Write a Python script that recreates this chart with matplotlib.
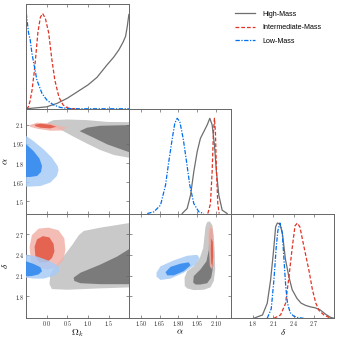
import matplotlib
matplotlib.use('Agg')
import matplotlib.pyplot as plt
from matplotlib.patches import Polygon
from matplotlib.lines import Line2D

plt.rcParams['mathtext.fontset'] = 'cm'

# ---------------- data ----------------
param_labels = [r'$\Omega_k$', r'$\alpha$', r'$\delta$']
series_names = ['High-Mass', 'Intermediate-Mass', 'Low-Mass']

omk_ticks = [0.0, 0.5, 1.0, 1.5]
omk_ticklabels = ['0.0', '0.5', '1.0', '1.5']
alpha_ticks = [1.50, 1.65, 1.80, 1.95, 2.10]
alpha_xticklabels = ['1.50', '1.65', '1.80', '1.95', '2.10']
alpha_yticklabels = ['1.5', '1.65', '1.8', '1.95', '2.1']
delta_ticks = [1.8, 2.1, 2.4, 2.7]
delta_ticklabels = ['1.8', '2.1', '2.4', '2.7']

omk_lim = (-0.49, 1.99)
alpha_lim = (1.405, 2.225)
delta_lim = (1.48, 3.0)

# 1D marginals (normalised to peak 1)
omk_high_x = [-0.49, 0.0, 0.25, 0.5, 0.75, 1.0, 1.22, 1.46, 1.62, 1.75, 1.85, 1.91, 1.95, 1.99]
omk_high_y = [0.0, 0.02, 0.056, 0.11, 0.18, 0.25, 0.33, 0.46, 0.54, 0.62, 0.70, 0.76, 0.86, 0.99]
omk_inter_x = [-0.49, -0.44, -0.40, -0.35, -0.30, -0.27, -0.21, -0.15, -0.095, -0.03, 0.05, 0.13, 0.20, 0.30, 0.40, 0.50, 0.60, 0.70]
omk_inter_y = [0.0, 0.02, 0.08, 0.20, 0.38, 0.51, 0.80, 0.96, 1.0, 0.95, 0.80, 0.51, 0.30, 0.12, 0.04, 0.01, 0.0, 0.0]
omk_low_x = [-0.49, -0.437, -0.396, -0.355, -0.315, -0.233, -0.11, 0.01, 0.17, 0.33, 0.5, 0.8, 1.99]
omk_low_y = [1.0, 0.80, 0.725, 0.585, 0.49, 0.30, 0.16, 0.09, 0.04, 0.014, 0.003, 0.0, 0.0]

alpha_high_x = [1.831, 1.871, 1.898, 1.924, 1.951, 1.977, 2.004, 2.031, 2.052, 2.071, 2.089, 2.105, 2.124, 2.151, 2.191]
alpha_high_y = [0.0, 0.053, 0.193, 0.439, 0.649, 0.789, 0.86, 0.93, 1.0, 0.93, 0.719, 0.439, 0.193, 0.035, 0.0]
alpha_inter_x = [2.036, 2.057, 2.071, 2.081, 2.089, 2.097, 2.105, 2.116, 2.127]
alpha_inter_y = [0.0, 0.10, 0.45, 0.85, 1.0, 0.85, 0.45, 0.10, 0.0]
alpha_low_x = [1.552, 1.605, 1.658, 1.698, 1.724, 1.752, 1.772, 1.791, 1.812, 1.839, 1.866, 1.892, 1.924, 1.964, 2.004]
alpha_low_y = [0.0, 0.018, 0.088, 0.298, 0.544, 0.789, 0.947, 1.0, 0.965, 0.789, 0.544, 0.298, 0.105, 0.018, 0.0]

delta_high_x = [1.81, 1.94, 2.01, 2.06, 2.10, 2.135, 2.16, 2.20, 2.235, 2.28, 2.33, 2.38, 2.45, 2.51, 2.58, 2.65, 2.72, 2.80, 2.88, 2.95, 3.0]
delta_high_y = [0.0, 0.035, 0.157, 0.40, 0.68, 0.96, 1.0, 0.99, 0.89, 0.62, 0.44, 0.30, 0.21, 0.16, 0.135, 0.12, 0.11, 0.085, 0.04, 0.01, 0.0]
delta_inter_x = [2.109, 2.208, 2.282, 2.332, 2.382, 2.422, 2.456, 2.495, 2.555, 2.629, 2.68, 2.73, 2.78, 2.85, 2.95]
delta_inter_y = [0.0, 0.035, 0.157, 0.436, 0.75, 0.97, 1.0, 0.958, 0.75, 0.50, 0.30, 0.16, 0.08, 0.035, 0.0]
delta_low_x = [2.010, 2.070, 2.109, 2.144, 2.168, 2.198, 2.233, 2.26, 2.285, 2.31, 2.35, 2.40, 2.46, 2.55]
delta_low_y = [0.0, 0.10, 0.40, 0.75, 0.92, 1.0, 0.90, 0.60, 0.33, 0.16, 0.06, 0.024, 0.008, 0.0]

# 2D credible regions: (x list, y list) for 95% (outer) and 68% (inner)
# Omega_k - alpha
oa_high_outer_x = [0.01, 0.05, 0.17, 0.495, 0.98, 1.47, 1.99, 2.1, 2.1, 1.99, 1.63, 1.30, 0.98, 0.655, 0.33, 0.05]
oa_high_outer_y = [2.110, 2.120, 2.136, 2.141, 2.136, 2.122, 2.120, 2.12, 1.84, 1.842, 1.863, 1.902, 1.952, 2.006, 2.063, 2.100]
oa_high_inner_x = [0.80, 0.98, 1.30, 1.99, 2.1, 2.1, 1.99, 1.47, 1.14]
oa_high_inner_y = [2.050, 2.077, 2.092, 2.097, 2.097, 1.886, 1.886, 1.946, 1.998]
oa_inter_outer_x = [-0.41, -0.23, 0.09, 0.33, 0.495, 0.37, 0.09, -0.23, -0.40]
oa_inter_outer_y = [2.097, 2.116, 2.110, 2.089, 2.077, 2.055, 2.053, 2.069, 2.084]
oa_inter_inner_x = [-0.29, -0.15, 0.09, 0.235, 0.09, -0.15, -0.27]
oa_inter_inner_y = [2.100, 2.108, 2.100, 2.084, 2.071, 2.077, 2.089]
oa_low_outer_x = [-0.6, -0.49, -0.315, -0.07, 0.13, 0.267, 0.29, 0.25, 0.09, -0.15, -0.40, -0.49, -0.6]
oa_low_outer_y = [2.011, 2.011, 1.972, 1.907, 1.842, 1.777, 1.745, 1.699, 1.647, 1.620, 1.616, 1.616, 1.616]
oa_low_inner_x = [-0.6, -0.49, -0.315, -0.17, -0.11, -0.135, -0.23, -0.40, -0.49, -0.6]
oa_low_inner_y = [1.946, 1.946, 1.894, 1.834, 1.777, 1.730, 1.699, 1.691, 1.691, 1.691]

# Omega_k - delta
od_high_outer_x = [2.1, 1.99, 1.30, 0.90, 0.78, 0.62, 0.41, 0.21, 0.09, 0.07, 0.13, 0.495, 1.30, 1.99, 2.1]
od_high_outer_y = [2.87, 2.861, 2.795, 2.747, 2.686, 2.544, 2.377, 2.235, 2.117, 1.975, 1.904, 1.894, 1.914, 1.928, 1.928]
od_high_inner_x = [0.655, 0.82, 1.30, 1.71, 1.99, 2.1, 2.1, 1.99, 1.30, 0.82, 0.67]
od_high_inner_y = [2.070, 2.141, 2.259, 2.377, 2.482, 2.50, 1.975, 1.975, 1.975, 1.989, 2.022]
od_inter_outer_x = [-0.41, -0.355, -0.19, 0.05, 0.29, 0.43, 0.455, 0.41, 0.25, 0.01, -0.23, -0.38]
od_inter_outer_y = [2.519, 2.686, 2.781, 2.795, 2.757, 2.639, 2.472, 2.330, 2.221, 2.188, 2.212, 2.306]
od_inter_inner_x = [-0.29, -0.23, -0.09, 0.07, 0.17, 0.19, 0.13, 0.01, -0.17, -0.27]
od_inter_inner_y = [2.519, 2.625, 2.672, 2.653, 2.558, 2.448, 2.354, 2.292, 2.292, 2.377]
od_low_outer_x = [-0.6, -0.49, -0.23, 0.09, 0.29, 0.315, 0.21, -0.07, -0.315, -0.49, -0.6]
od_low_outer_y = [2.401, 2.401, 2.377, 2.306, 2.235, 2.164, 2.103, 2.056, 2.056, 2.070, 2.070]
od_low_inner_x = [-0.6, -0.49, -0.315, -0.15, -0.11, -0.19, -0.355, -0.49, -0.6]
od_low_inner_y = [2.306, 2.306, 2.269, 2.221, 2.164, 2.117, 2.093, 2.093, 2.093]

# alpha - delta
ad_high_outer_x = [1.852, 1.850, 1.871, 1.924, 1.972, 1.999, 2.009, 2.017, 2.031, 2.052, 2.073, 2.084, 2.092, 2.095, 2.084, 2.057, 2.004, 1.924, 1.871]
ad_high_outer_y = [1.951, 2.070, 2.164, 2.235, 2.354, 2.497, 2.662, 2.804, 2.875, 2.885, 2.828, 2.662, 2.426, 2.188, 2.022, 1.928, 1.894, 1.889, 1.914]
ad_high_inner_x = [1.919, 1.924, 1.977, 2.025, 2.044, 2.047, 2.057, 2.073, 2.079, 2.079, 2.063, 2.031, 1.977, 1.938]
ad_high_inner_y = [1.999, 2.093, 2.188, 2.306, 2.472, 2.662, 2.795, 2.757, 2.519, 2.235, 2.070, 1.989, 1.970, 1.970]
ad_inter_outer_x = [2.041, 2.057, 2.076, 2.084, 2.084, 2.071, 2.052, 2.047, 2.041]
ad_inter_outer_y = [2.757, 2.828, 2.781, 2.568, 2.306, 2.188, 2.235, 2.426, 2.615]
ad_inter_inner_x = [2.063, 2.076, 2.079, 2.073, 2.063, 2.060]
ad_inter_inner_y = [2.639, 2.591, 2.377, 2.235, 2.283, 2.472]
ad_low_outer_x = [1.626, 1.658, 1.764, 1.871, 1.951, 1.970, 1.938, 1.844, 1.738, 1.658, 1.626]
ad_low_outer_y = [2.141, 2.235, 2.320, 2.387, 2.401, 2.354, 2.259, 2.141, 2.056, 2.036, 2.084]
ad_low_inner_x = [1.698, 1.738, 1.818, 1.884, 1.898, 1.844, 1.764, 1.712]
ad_low_inner_y = [2.150, 2.226, 2.273, 2.292, 2.249, 2.164, 2.103, 2.103]

# ---------------- styles ----------------
line_colors = ['#6e6e6e', '#E03424', '#006FED']
line_styles = ['-', (0, (3.0, 1.6)), (0, (3.5, 1.2, 1.0, 1.2))]
fill_outer = ['#c9c9c9', '#f2b2aa', '#a8cbf6']
fill_inner = ['#7b7b7b', '#e2553f', '#2c86ee']
fill_alpha = [1.0, 0.85, 0.85]
spine_color = '#666666'

tick_fs = 4.3
label_fs = 6.8

fig = plt.figure(figsize=(3.39, 3.39), dpi=100)
L, R, T, B = 0.0776, 0.9853, 0.9882, 0.0611
W = (R - L) / 3
H = (T - B) / 3

limits = [omk_lim, alpha_lim, delta_lim]
xticks = [omk_ticks, alpha_ticks, delta_ticks]
xticklabels = [omk_ticklabels, alpha_xticklabels, delta_ticklabels]
yticks = [omk_ticks, alpha_ticks, delta_ticks]
yticklabels = [omk_ticklabels, alpha_yticklabels, delta_ticklabels]

one_d = [
    [(omk_high_x, omk_high_y), (omk_inter_x, omk_inter_y), (omk_low_x, omk_low_y)],
    [(alpha_high_x, alpha_high_y), (alpha_inter_x, alpha_inter_y), (alpha_low_x, alpha_low_y)],
    [(delta_high_x, delta_high_y), (delta_inter_x, delta_inter_y), (delta_low_x, delta_low_y)],
]
two_d = {
    (1, 0): [((oa_high_outer_x, oa_high_outer_y), (oa_high_inner_x, oa_high_inner_y)),
             ((oa_inter_outer_x, oa_inter_outer_y), (oa_inter_inner_x, oa_inter_inner_y)),
             ((oa_low_outer_x, oa_low_outer_y), (oa_low_inner_x, oa_low_inner_y))],
    (2, 0): [((od_high_outer_x, od_high_outer_y), (od_high_inner_x, od_high_inner_y)),
             ((od_inter_outer_x, od_inter_outer_y), (od_inter_inner_x, od_inter_inner_y)),
             ((od_low_outer_x, od_low_outer_y), (od_low_inner_x, od_low_inner_y))],
    (2, 1): [((ad_high_outer_x, ad_high_outer_y), (ad_high_inner_x, ad_high_inner_y)),
             ((ad_inter_outer_x, ad_inter_outer_y), (ad_inter_inner_x, ad_inter_inner_y)),
             ((ad_low_outer_x, ad_low_outer_y), (ad_low_inner_x, ad_low_inner_y))],
}


def style_axes(ax):
    for s in ax.spines.values():
        s.set_color(spine_color)
        s.set_linewidth(0.7)
    ax.tick_params(direction='in', length=2.0, width=0.5, colors=spine_color,
                   labelcolor='#222222', labelsize=tick_fs, top=True, right=True)
    ax.tick_params(axis='x', pad=0.6)
    ax.tick_params(axis='y', pad=1.6)


for row in range(3):
    for col in range(row + 1):
        ax = fig.add_axes([L + col * W, T - (row + 1) * H, W, H])
        style_axes(ax)
        ax.set_xlim(*limits[col])
        ax.set_xticks(xticks[col])
        if row == 2:
            ax.set_xticklabels([r'$%s$' % t for t in xticklabels[col]])
            ax.set_xlabel(param_labels[col], fontsize=label_fs)
            ax.xaxis.set_label_coords(0.5, -0.084)
            ax.xaxis.label.set_va('top')
        else:
            ax.set_xticklabels([])
        if row == col:
            for k in range(3):
                xs, ys = one_d[col][k]
                ax.plot(xs, ys, color=line_colors[k], ls=line_styles[k], lw=0.9,
                        label=series_names[k])
            ax.set_ylim(0, 1.1)
            ax.set_yticks([])
            ax.tick_params(left=False, right=False)
        else:
            ax.set_ylim(*limits[row])
            ax.set_yticks(yticks[row])
            if col == 0:
                ax.set_yticklabels([r'$%s$' % t for t in yticklabels[row]])
                ax.set_ylabel(param_labels[row], fontsize=label_fs)
                ax.yaxis.set_label_coords(-0.158, 0.5)
            else:
                ax.set_yticklabels([])
            for k in range(3):
                (ox, oy), (ix, iy) = two_d[(row, col)][k]
                ax.add_patch(Polygon(list(zip(ox, oy)), closed=True, fc=fill_outer[k],
                                     ec='none', alpha=fill_alpha[k], zorder=1 + k))
                ax.add_patch(Polygon(list(zip(ix, iy)), closed=True, fc=fill_inner[k],
                                     ec='none', alpha=fill_alpha[k], zorder=1.5 + k))

handles = [Line2D([], [], color=line_colors[k], ls=line_styles[k], lw=0.9) for k in range(3)]
fig.legend(handles, series_names, loc='upper left', bbox_to_anchor=(0.694, 0.968),
           frameon=False, prop={'family': 'Liberation Sans', 'size': 5.1},
           handlelength=2.8, handletextpad=1.0, labelspacing=0.9, borderaxespad=0.0,
           borderpad=0.0)

fig.savefig('out.png', dpi=100)
